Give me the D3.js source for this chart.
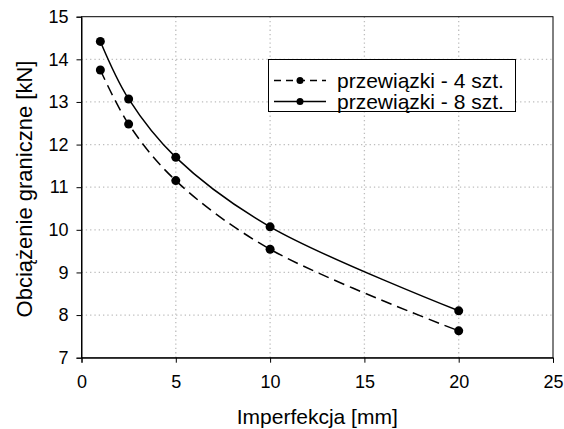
<!DOCTYPE html>
<html><head><meta charset="utf-8">
<script src="https://cdn.jsdelivr.net/npm/d3@7"></script>
<style>body{margin:0;background:#fff}svg{display:block}text{font-family:"Liberation Sans",Arial,sans-serif;fill:#000}</style>
</head><body><svg id="c" width="564" height="429"></svg>
<script>
const xVals = [1, 2.5, 5, 10, 20];
const series4 = [13.75, 12.48, 11.155, 9.545, 7.63];
const series8 = [14.42, 13.07, 11.70, 10.07, 8.10];
const seriesNames = ["przewiązki - 4 szt.", "przewiązki - 8 szt."];
const xTicks = [0, 5, 10, 15, 20, 25];
const yTicks = [7, 8, 9, 10, 11, 12, 13, 14, 15];
const xTitle = "Imperfekcja [mm]";
const yTitle = "Obciążenie graniczne [kN]";

const svg = d3.select("#c");
const L = 81.5, R = 553, T = 16.7, B = 357.7;
const x = d3.scaleLinear().domain([0, 25]).range([L, R]);
const y = d3.scaleLinear().domain([7, 15]).range([B, T]);

// grid
const g = svg.append("g");
g.selectAll(".gy").data(yTicks.slice(1, -1)).enter().append("line")
  .attr("x1", L).attr("x2", R).attr("y1", d => y(d)).attr("y2", d => y(d))
  .attr("stroke", "#bdbdbd").attr("stroke-width", 1.3).attr("stroke-dasharray", "1.3,3");
g.selectAll(".gx").data(xTicks.slice(1, -1)).enter().append("line")
  .attr("y1", T).attr("y2", B).attr("x1", d => x(d)).attr("x2", d => x(d))
  .attr("stroke", "#bdbdbd").attr("stroke-width", 1.3).attr("stroke-dasharray", "1.3,3");

// frame
svg.append("rect").attr("x", L).attr("y", T).attr("width", R - L).attr("height", B - T)
  .attr("fill", "none").attr("stroke", "#000").attr("stroke-width", 1);

// axes
const xa = svg.append("g").attr("transform", `translate(0,${B})`)
  .call(d3.axisBottom(x).tickValues(xTicks).tickSize(5).tickPadding(13).tickFormat(d3.format("d")));
const ya = svg.append("g").attr("transform", `translate(${L},0)`)
  .call(d3.axisLeft(y).tickValues(yTicks).tickSize(5).tickPadding(8).tickFormat(d3.format("d")));
[xa, ya].forEach(a => {
  a.select(".domain").attr("stroke", "#000");
  a.selectAll("text").attr("font-size", 18).attr("font-family", "Liberation Sans, Arial, sans-serif");
});

// lines
const line = d3.line().x(d => x(d[0])).y(d => y(d[1])).curve(d3.curveCatmullRom.alpha(0.5));
const d4 = xVals.map((v, i) => [v, series4[i]]);
const d8 = xVals.map((v, i) => [v, series8[i]]);
svg.append("path").attr("d", line(d4)).attr("fill", "none").attr("stroke", "#000")
  .attr("stroke-width", 1.5).attr("stroke-dasharray", "11,6");
svg.append("path").attr("d", line(d8)).attr("fill", "none").attr("stroke", "#000")
  .attr("stroke-width", 1.5);
[d4, d8].forEach(ds => {
  svg.append("g").selectAll("circle").data(ds).enter().append("circle")
    .attr("cx", d => x(d[0])).attr("cy", d => y(d[1])).attr("r", 4.5).attr("fill", "#000");
});

// legend
const lg = svg.append("g");
lg.append("rect").attr("x", 268.5).attr("y", 59.5).attr("width", 247).attr("height", 52)
  .attr("fill", "#fff").attr("stroke", "#000").attr("stroke-width", 1);
seriesNames.forEach((n, i) => {
  const yy = 80.5 + i * 21;
  lg.append("line").attr("x1", 274).attr("x2", 326).attr("y1", yy).attr("y2", yy)
    .attr("stroke", "#000").attr("stroke-width", 1.5)
    .attr("stroke-dasharray", i === 0 ? "7,5" : null);
  lg.append("circle").attr("cx", 300).attr("cy", yy).attr("r", 3.5).attr("fill", "#000");
  lg.append("text").attr("x", 337).attr("y", yy + 7.5).attr("font-size", 21).text(n);
});

// titles
svg.append("text").attr("x", (L + R) / 2).attr("y", 424).attr("text-anchor", "middle")
  .attr("font-size", 21).text(xTitle);
svg.append("text").attr("transform", `translate(32,189) rotate(-90)`)
  .attr("text-anchor", "middle").attr("font-size", 22).text(yTitle);
</script></body></html>
